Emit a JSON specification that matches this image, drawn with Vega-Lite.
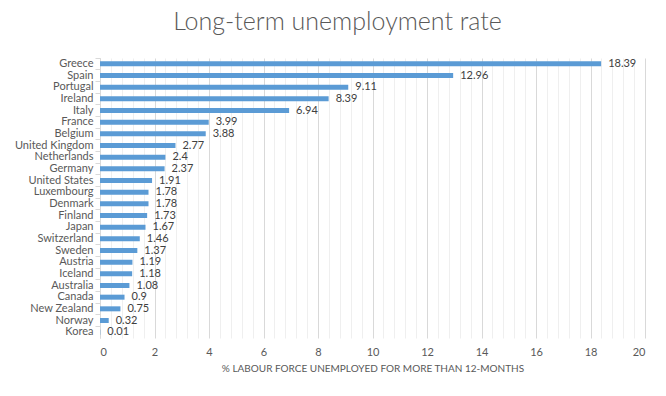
{
  "$schema": "https://vega.github.io/schema/vega-lite/v6.json",
  "width": 545,
  "height": 280,
  "autosize": {"type": "none"},
  "padding": {"left": 100, "top": 58, "right": 21, "bottom": 58},
  "background": "white",
  "config": {
    "font": "Lato",
    "view": {"stroke": null},
    "axis": {"labelFont": "Lato", "titleFont": "Lato"}
  },
  "title": {
    "text": "Long-term unemployment rate",
    "font": "Lato",
    "fontSize": 25,
    "fontWeight": 300,
    "color": "#595959",
    "anchor": "middle",
    "dx": -35,
    "offset": 22
  },
  "data": {
    "values": [
      {"country": "Greece", "rate": 18.39},
      {"country": "Spain", "rate": 12.96},
      {"country": "Portugal", "rate": 9.11},
      {"country": "Ireland", "rate": 8.39},
      {"country": "Italy", "rate": 6.94},
      {"country": "France", "rate": 3.99},
      {"country": "Belgium", "rate": 3.88},
      {"country": "United Kingdom", "rate": 2.77},
      {"country": "Netherlands", "rate": 2.4},
      {"country": "Germany", "rate": 2.37},
      {"country": "United States", "rate": 1.91},
      {"country": "Luxembourg", "rate": 1.78},
      {"country": "Denmark", "rate": 1.78},
      {"country": "Finland", "rate": 1.73},
      {"country": "Japan", "rate": 1.67},
      {"country": "Switzerland", "rate": 1.46},
      {"country": "Sweden", "rate": 1.37},
      {"country": "Austria", "rate": 1.19},
      {"country": "Iceland", "rate": 1.18},
      {"country": "Australia", "rate": 1.08},
      {"country": "Canada", "rate": 0.9},
      {"country": "New Zealand", "rate": 0.75},
      {"country": "Norway", "rate": 0.32},
      {"country": "Korea", "rate": 0.01}
    ]
  },
  "resolve": {"axis": {"x": "independent", "y": "independent"}},
  "layer": [
    {
      "mark": {"type": "text", "opacity": 0},
      "encoding": {
        "y": {
          "field": "country",
          "type": "nominal",
          "sort": null,
          "scale": {"paddingInner": 0, "paddingOuter": 0},
          "axis": {
            "orient": "left",
            "title": null,
            "labels": false,
            "ticks": true,
            "tickSize": 5,
            "tickColor": "#d9d9d9",
            "bandPosition": 0,
            "domain": false,
            "grid": false
          }
        },
        "x": {
          "field": "rate",
          "type": "quantitative",
          "scale": {"domain": [0, 20], "nice": false},
          "axis": {
            "orient": "bottom",
            "title": null,
            "values": [0.4, 0.8, 1.2, 1.6, 2.4, 2.8, 3.2, 3.6, 4.4, 4.8, 5.2, 5.6, 6.4, 6.8, 7.2, 7.6, 8.4, 8.8, 9.2, 9.6, 10.4, 10.8, 11.2, 11.6, 12.4, 12.8, 13.2, 13.6, 14.4, 14.8, 15.2, 15.6, 16.4, 16.8, 17.2, 17.6, 18.4, 18.8, 19.2, 19.6],
            "labels": false,
            "ticks": false,
            "domain": false,
            "grid": true,
            "gridColor": "#efefef"
          }
        },
        "text": {"field": "rate", "type": "quantitative"}
      }
    },
    {
      "mark": {"type": "bar", "color": "#5B9BD5", "size": 5},
      "encoding": {
        "y": {
          "field": "country",
          "type": "nominal",
          "sort": null,
          "scale": {"paddingInner": 0, "paddingOuter": 0},
          "axis": {
            "orient": "left",
            "title": null,
            "ticks": false,
            "domain": true,
            "domainColor": "#d9d9d9",
            "labelFontSize": 11,
            "labelColor": "#595959",
            "labelPadding": 7,
            "grid": false
          }
        },
        "x": {
          "field": "rate",
          "type": "quantitative",
          "scale": {"domain": [0, 20], "nice": false},
          "axis": {
            "orient": "bottom",
            "title": "% LABOUR FORCE UNEMPLOYED FOR MORE THAN 12-MONTHS",
            "titleFontSize": 10,
            "titleFontWeight": "normal",
            "titleColor": "#595959",
            "titlePadding": 6,
            "values": [0, 2, 4, 6, 8, 10, 12, 14, 16, 18, 20],
            "labelOverlap": false,
            "labelFontSize": 11,
            "labelColor": "#595959",
            "labelPadding": 8,
            "ticks": false,
            "domain": false,
            "grid": true,
            "gridColor": "#d9d9d9"
          }
        }
      }
    },
    {
      "mark": {"type": "text", "align": "left", "baseline": "middle", "dx": 7, "fontSize": 11, "color": "#404040"},
      "encoding": {
        "y": {"field": "country", "type": "nominal", "sort": null, "axis": null},
        "x": {"field": "rate", "type": "quantitative", "axis": null},
        "text": {"field": "rate", "type": "quantitative"}
      }
    }
  ]
}
